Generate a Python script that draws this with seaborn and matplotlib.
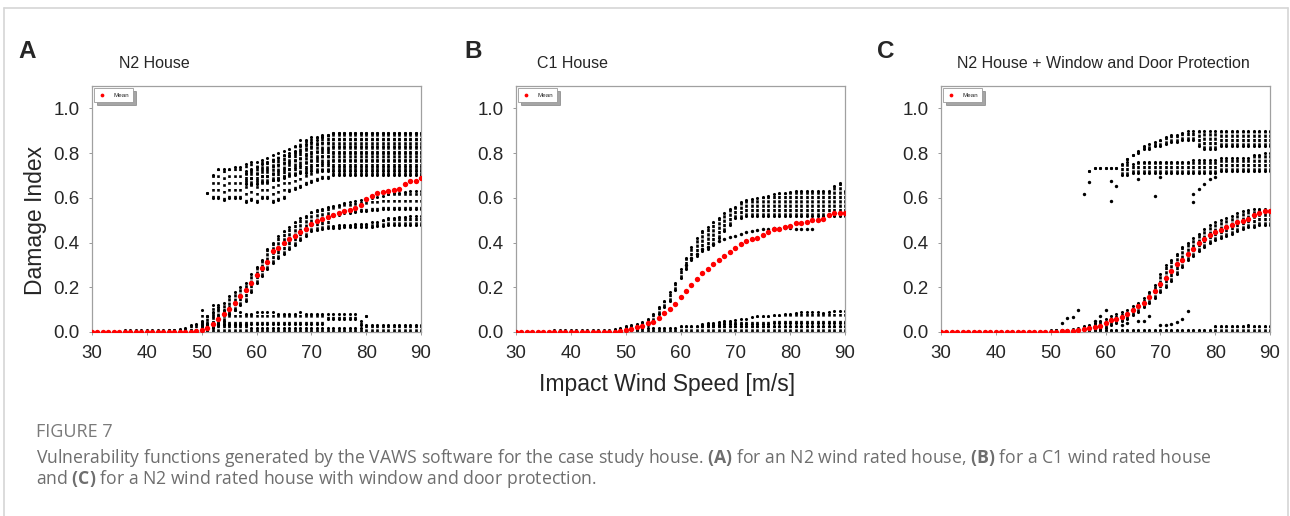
import matplotlib
matplotlib.use("Agg")
import matplotlib.pyplot as plt
import seaborn as sns
from matplotlib.lines import Line2D

sns.set_theme(style="white")
plt.rcParams['font.family'] = ['Liberation Sans', 'DejaVu Sans']
plt.rcParams['mathtext.fontset'] = 'custom'
plt.rcParams['mathtext.rm'] = 'Open Sans'
plt.rcParams['mathtext.bf'] = 'Open Sans:bold'

# --- data ---
speed = list(range(30, 91))

mean_a = [0, 0, 0, 0, 0, 0, 0, 0, 0, 0,
          0, 0, 0, 0, 0, 0, 0, 0, 0, 0.005,
          0.01, 0.02, 0.035, 0.06, 0.08, 0.105, 0.13, 0.16, 0.19, 0.22,
          0.255, 0.285, 0.315, 0.36, 0.375, 0.40, 0.415, 0.43, 0.445, 0.46,
          0.485, 0.495, 0.505, 0.515, 0.525, 0.53, 0.54, 0.545, 0.555, 0.57,
          0.595, 0.61, 0.62, 0.625, 0.63, 0.635, 0.64, 0.66, 0.675, 0.675,
          0.69]
mean_b = [0, 0, 0, 0, 0, 0, 0, 0, 0, 0,
          0, 0, 0, 0, 0, 0, 0, 0, 0, 0.005,
          0.01, 0.015, 0.024, 0.028, 0.039, 0.046, 0.061, 0.083, 0.101, 0.125,
          0.155, 0.183, 0.21, 0.238, 0.262, 0.283, 0.304, 0.324, 0.339, 0.356,
          0.376, 0.393, 0.406, 0.417, 0.42, 0.432, 0.449, 0.46, 0.46, 0.469,
          0.475, 0.487, 0.487, 0.49, 0.499, 0.501, 0.506, 0.524, 0.53, 0.53,
          0.53]
mean_c = [0, 0, 0, 0, 0, 0, 0, 0, 0, 0,
          0, 0, 0, 0, 0, 0, 0, 0, 0, 0,
          0, 0, 0.003, 0.003, 0.005, 0.008, 0.012, 0.018, 0.024, 0.028,
          0.039, 0.054, 0.06, 0.068, 0.08, 0.10, 0.116, 0.128, 0.158, 0.185,
          0.214, 0.243, 0.274, 0.304, 0.324, 0.348, 0.369, 0.396, 0.415, 0.433,
          0.448, 0.458, 0.47, 0.478, 0.492, 0.497, 0.504, 0.521, 0.534, 0.54,
          0.541]

# realisations: (first speed, lower edge, upper edge) of each column group
a_base_start = 36
a_base_top = [0.008, 0.008, 0.008, 0.008, 0.008, 0.008, 0.008, 0.008, 0.008, 0.008, 0.008, 0.008, 0.008, 0.008,
              0.03, 0.03, 0.03, 0.03, 0.03, 0.03, 0.03, 0.03, 0.03,
              0.02, 0.02, 0.02, 0.02, 0.02, 0.02, 0.02, 0.02, 0.02, 0.02, 0.02,
              0.02, 0.02, 0.02, 0.02, 0.02, 0.02, 0.02, 0.02, 0.02, 0.02,
              0.03, 0.03, 0.03, 0.03, 0.03, 0.03, 0.03, 0.03, 0.03, 0.03, 0.03]
a_low_start = 50
a_low_lo = [0.035, 0.035, 0.035, 0.035, 0.035, 0.035, 0.035, 0.035, 0.035, 0.035,
            0.035, 0.035, 0.035, 0.035, 0.035, 0.035, 0.035, 0.035, 0.035, 0.035,
            0.035, 0.035, 0.035, 0.06, 0.06, 0.06, 0.06, 0.06, 0.06, 0.03, 0.07]
a_low_hi = [0.10, 0.07, 0.12, 0.12, 0.10, 0.11, 0.10, 0.09, 0.08, 0.08,
            0.09, 0.09, 0.09, 0.09, 0.08, 0.08, 0.08, 0.08, 0.09, 0.08,
            0.08, 0.08, 0.08, 0.08, 0.08, 0.08, 0.08, 0.08, 0.08, 0.05, 0.07]
a_s_start = 44
a_s_lo = [0, 0, 0, 0, 0, 0, 0, 0.01, 0.02, 0.03, 0.05, 0.08, 0.10, 0.12, 0.14,
          0.18, 0.22, 0.25, 0.28, 0.31, 0.33, 0.35, 0.37, 0.39, 0.41, 0.43, 0.45, 0.455, 0.46, 0.465]
a_s_hi = [0.01, 0.01, 0.015, 0.02, 0.03, 0.035, 0.05, 0.07, 0.09, 0.11, 0.13, 0.16, 0.18, 0.20, 0.22,
          0.26, 0.29, 0.32, 0.37, 0.40, 0.43, 0.45, 0.47, 0.49, 0.51, 0.52, 0.535, 0.545, 0.55, 0.56]
a_mid_start = 74
a_mid_lo = [0.52, 0.525, 0.53, 0.53, 0.535, 0.54, 0.54, 0.545, 0.545, 0.55, 0.55, 0.55, 0.55, 0.55, 0.55, 0.55, 0.55]
a_mid_hi = [0.565, 0.57, 0.575, 0.58, 0.585, 0.59, 0.595, 0.60, 0.605, 0.61, 0.615, 0.62, 0.62, 0.625, 0.63, 0.63, 0.63]
a_flat_start = 74
a_flat_lo = [0.465, 0.465, 0.47, 0.47, 0.47, 0.47, 0.47, 0.47, 0.475, 0.475, 0.48, 0.48, 0.48, 0.48, 0.48, 0.48, 0.48]
a_flat_hi = [0.475, 0.48, 0.48, 0.48, 0.485, 0.485, 0.485, 0.49, 0.49, 0.50, 0.51, 0.51, 0.515, 0.515, 0.52, 0.52, 0.52]
a_up_start = 51
a_up_lo = [0.62, 0.60, 0.60, 0.59, 0.60, 0.60, 0.60, 0.58, 0.59, 0.58, 0.60, 0.60, 0.58, 0.59, 0.60,
           0.63, 0.64, 0.65, 0.66, 0.67, 0.68, 0.69, 0.69,
           0.70, 0.70, 0.70, 0.70, 0.70, 0.70, 0.70, 0.70, 0.70, 0.70, 0.70, 0.70, 0.70, 0.70, 0.70, 0.70, 0.70]
a_up_hi = [0.62, 0.70, 0.73, 0.73, 0.73, 0.74, 0.74, 0.75, 0.76, 0.76, 0.77, 0.78, 0.79, 0.80, 0.81,
           0.82, 0.83, 0.86, 0.86, 0.87, 0.87, 0.88, 0.88,
           0.89, 0.89, 0.89, 0.89, 0.89, 0.89, 0.89, 0.89, 0.89, 0.89, 0.89, 0.89, 0.89, 0.89, 0.89, 0.89, 0.89]
a_core_start = 58
a_core_lo = [0.66, 0.66, 0.66, 0.67, 0.67, 0.68, 0.68, 0.69, 0.70, 0.70, 0.71, 0.71, 0.72,
             0.72, 0.72, 0.72, 0.72, 0.72, 0.72, 0.72, 0.72, 0.72, 0.72,
             0.72, 0.72, 0.72, 0.72, 0.72, 0.72, 0.72, 0.72, 0.72, 0.72]
a_core_hi = [0.72, 0.73, 0.74, 0.75, 0.76, 0.77, 0.78, 0.79, 0.80, 0.81, 0.83, 0.84, 0.85,
             0.86, 0.87, 0.88, 0.89, 0.89, 0.89, 0.89, 0.89, 0.89, 0.89,
             0.89, 0.89, 0.89, 0.89, 0.89, 0.89, 0.89, 0.89, 0.89, 0.89]

b_base_start = 37
b_base_top = [0.01, 0.01, 0.01, 0.01, 0.01, 0.01, 0.01, 0.01, 0.01, 0.01, 0.01, 0.01, 0.01,
              0.02, 0.02, 0.02, 0.02, 0.02, 0.02, 0.02, 0.02, 0.02, 0.02,
              0.025, 0.025, 0.025, 0.025, 0.025, 0.025, 0.025, 0.025, 0.025, 0.025,
              0.025, 0.025, 0.025, 0.025, 0.025, 0.025, 0.025, 0.025, 0.025, 0.025,
              0.025, 0.025, 0.025, 0.025, 0.025, 0.025, 0.025, 0.025, 0.025, 0.025, 0.025]
b_rise_start = 64
b_rise_lo = [0.03, 0.03, 0.03, 0.03, 0.035, 0.035, 0.035, 0.035, 0.035, 0.035, 0.035, 0.035, 0.035,
             0.04, 0.04, 0.04, 0.04, 0.04, 0.04, 0.04, 0.04, 0.04, 0.04, 0.04, 0.04, 0.04, 0.04]
b_rise_hi = [0.035, 0.04, 0.04, 0.045, 0.05, 0.05, 0.055, 0.06, 0.06, 0.065, 0.07, 0.07, 0.07,
             0.075, 0.075, 0.08, 0.08, 0.085, 0.09, 0.09, 0.09, 0.09, 0.085, 0.09, 0.095, 0.095, 0.095]
b_s_start = 48
b_s_lo = [0, 0, 0, 0.005, 0.01, 0.02, 0.03, 0.05, 0.08, 0.11, 0.14, 0.19, 0.24, 0.28, 0.32, 0.34,
          0.36, 0.37, 0.39, 0.42, 0.45, 0.48, 0.51, 0.51,
          0.52, 0.52, 0.52, 0.52, 0.52, 0.52, 0.52, 0.52, 0.52, 0.52,
          0.52, 0.52, 0.52, 0.52, 0.52, 0.52, 0.52, 0.52, 0.52]
b_s_hi = [0.015, 0.02, 0.025, 0.03, 0.035, 0.045, 0.06, 0.08, 0.11, 0.14, 0.18, 0.22, 0.28, 0.33, 0.38, 0.42,
          0.45, 0.47, 0.49, 0.51, 0.53, 0.55, 0.56, 0.58,
          0.59, 0.595, 0.60, 0.605, 0.61, 0.615, 0.62, 0.62, 0.625, 0.63,
          0.63, 0.63, 0.63, 0.63, 0.63, 0.63, 0.655, 0.665, 0.63]
b_branch_x = [61, 62, 63, 64, 65, 66, 67, 68, 69, 70, 71, 72, 73, 74, 75, 76, 77, 78, 79, 80, 81, 82, 83, 84]
b_branch_y = [0.30, 0.33, 0.35, 0.37, 0.38, 0.395, 0.405, 0.415, 0.425, 0.43, 0.44, 0.445,
              0.45, 0.455, 0.46, 0.46, 0.465, 0.465, 0.465, 0.465, 0.46, 0.46, 0.46, 0.46]

c_base_start = 50
c_base_top = [0.008, 0.008, 0.008, 0.008, 0.008, 0.008, 0.008, 0.008, 0.008, 0.008,
              0.008, 0.008, 0.008, 0.008, 0.008, 0.008, 0.008, 0.008, 0.008, 0.008,
              0.01, 0.01, 0.01, 0.01, 0.01, 0.01, 0.01, 0.01, 0.01, 0.01,
              0.025, 0.025, 0.025, 0.025, 0.025, 0.025, 0.03, 0.025, 0.025, 0.025, 0.025]
c_s_start = 50
c_s_lo = [0, 0, 0, 0, 0, 0, 0.005, 0.01, 0.01, 0.015, 0.02, 0.03, 0.04, 0.05, 0.06, 0.075,
          0.09, 0.11, 0.13, 0.15, 0.18, 0.20, 0.23, 0.26, 0.29, 0.32, 0.34, 0.36, 0.38, 0.40,
          0.41, 0.42, 0.43, 0.44, 0.45, 0.46, 0.47, 0.47, 0.48, 0.48, 0.48]
c_s_hi = [0.005, 0.008, 0.01, 0.01, 0.015, 0.02, 0.025, 0.03, 0.04, 0.05, 0.06, 0.07, 0.08, 0.09, 0.10, 0.115,
          0.13, 0.15, 0.18, 0.21, 0.26, 0.30, 0.32, 0.35, 0.38, 0.40, 0.42, 0.44, 0.46, 0.48,
          0.49, 0.50, 0.51, 0.52, 0.53, 0.54, 0.545, 0.55, 0.55, 0.55, 0.54]
c_low_x = [52, 53, 54, 55, 58, 59, 60, 63, 64, 66, 67, 68, 70, 71, 72, 73, 74, 75]
c_low_y = [0.039, 0.061, 0.067, 0.10, 0.05, 0.07, 0.10, 0.03, 0.04, 0.05, 0.05, 0.07,
           0.03, 0.03, 0.036, 0.045, 0.06, 0.095]
c_top_start = 64
c_top_lo = [0.775, 0.79, 0.80, 0.82, 0.82, 0.83, 0.83, 0.84, 0.85, 0.85, 0.86, 0.86, 0.86,
            0.83, 0.82, 0.82, 0.82, 0.83, 0.83, 0.83, 0.83, 0.83, 0.83, 0.83, 0.83, 0.83, 0.83]
c_top_hi = [0.775, 0.79, 0.81, 0.83, 0.84, 0.85, 0.86, 0.87, 0.88, 0.88, 0.89, 0.90, 0.90,
            0.90, 0.90, 0.90, 0.90, 0.90, 0.90, 0.90, 0.90, 0.90, 0.90, 0.90, 0.90, 0.90, 0.90]
c_mid_start = 57
c_mid_lo = [0.72, 0.735, 0.735, 0.735, 0.735, 0.735, 0.70, 0.70, 0.71,
            0.71, 0.71, 0.71, 0.71, 0.71, 0.71, 0.71, 0.71, 0.71, 0.71,
            0.71, 0.71, 0.71, 0.71, 0.71, 0.72, 0.72, 0.72, 0.72, 0.72, 0.72, 0.72, 0.72, 0.72, 0.72]
c_mid_hi = [0.72, 0.735, 0.735, 0.735, 0.735, 0.735, 0.75, 0.76, 0.75,
            0.76, 0.76, 0.76, 0.76, 0.76, 0.76, 0.76, 0.76, 0.76, 0.76,
            0.77, 0.77, 0.77, 0.77, 0.77, 0.78, 0.78, 0.78, 0.78, 0.78, 0.78, 0.79, 0.79, 0.80, 0.80]
c_out_x = [56, 57, 61, 61, 62, 66, 69, 70, 76, 76, 77, 78, 79, 80]
c_out_y = [0.616, 0.671, 0.676, 0.588, 0.653, 0.686, 0.609, 0.693, 0.582, 0.619, 0.64, 0.663, 0.686, 0.693]

titles = ["N2 House", "C1 House", "N2 House + Window and Door Protection"]
letters = ["A", "B", "C"]
x_ticks = [30, 40, 50, 60, 70, 80, 90]
y_ticks = [0.0, 0.2, 0.4, 0.6, 0.8, 1.0]

DENSE = (0, (1.2, 0.45))
SPARSE = (0, (1.0, 1.6))


def band(ax, start, lo, hi, style=DENSE):
    xs = list(range(start, start + len(hi)))
    ax.vlines(xs, lo, hi, colors="black", linewidth=1.9, linestyles=style)
    ends = lo if isinstance(lo, list) else [lo] * len(hi)
    sns.scatterplot(x=xs + xs, y=ends + hi, color="black", s=5, linewidth=0,
                    ax=ax, legend=False)


def dots(ax, xs, ys):
    sns.scatterplot(x=xs, y=ys, color="black", s=6, linewidth=0, ax=ax, legend=False)


fig = plt.figure(figsize=(12.9, 5.16), dpi=100)
W, H = 1290.0, 516.0
lefts = [92, 516, 941]
axes = [fig.add_axes([l / W, 1 - 332 / H, 329 / W, 246 / H]) for l in lefts]

ax = axes[0]
band(ax, a_base_start, 0, a_base_top)
band(ax, a_low_start, a_low_lo, a_low_hi, SPARSE)
band(ax, a_s_start, a_s_lo, a_s_hi)
band(ax, a_mid_start, a_mid_lo, a_mid_hi, SPARSE)
band(ax, a_flat_start, a_flat_lo, a_flat_hi)
band(ax, a_up_start, a_up_lo, a_up_hi, SPARSE)
band(ax, a_core_start, a_core_lo, a_core_hi)

ax = axes[1]
band(ax, b_base_start, 0, b_base_top)
band(ax, b_rise_start, b_rise_lo, b_rise_hi, SPARSE)
band(ax, b_s_start, b_s_lo, b_s_hi)
dots(ax, b_branch_x, b_branch_y)

ax = axes[2]
band(ax, c_base_start, 0, c_base_top)
band(ax, c_s_start, c_s_lo, c_s_hi)
dots(ax, c_low_x, c_low_y)
band(ax, c_top_start, c_top_lo, c_top_hi)
band(ax, c_mid_start, c_mid_lo, c_mid_hi)
dots(ax, c_out_x, c_out_y)

for ax, mean in zip(axes, [mean_a, mean_b, mean_c]):
    sns.scatterplot(x=speed, y=mean, color="red", s=15, linewidth=0,
                    label="Mean", ax=ax, zorder=5)
    ax.set_xlim(30, 90)
    ax.set_ylim(0, 1.1)
    ax.set_xticks(x_ticks)
    ax.set_yticks(y_ticks)
    ax.set_yticklabels([f"{v:.1f}" for v in y_ticks])
    ax.tick_params(axis="both", labelsize=13.5, length=2, width=0.6,
                   color="#888888", pad=7, left=True, bottom=True)
    for sp in ax.spines.values():
        sp.set_color("#a0a0a0")
        sp.set_linewidth(0.9)
    ax.set_xlabel("")
    ax.set_ylabel("")
    leg = ax.legend(loc="upper left", prop={"size": 4.5}, handlelength=1.2,
                    handletextpad=1.2, borderpad=0.7, borderaxespad=0.3,
                    shadow=True, fancybox=False, framealpha=1, markerscale=0.7)
    leg.get_frame().set_edgecolor("#999999")
    leg.get_frame().set_linewidth(0.6)

# panel letters and titles
for x, t in zip([27, 473, 886], letters):
    fig.text(x / W, 1 - 51 / H, t, fontsize=17.5, fontweight="bold",
             ha="center", va="center")
for x, t in zip([119, 537, 957], titles):
    fig.text(x / W, 1 - 64 / H, t, fontsize=11.5, ha="left", va="center")

fig.text(36 / W, 1 - 220 / H, "Damage Index", rotation=90, fontsize=16.5,
         ha="center", va="center")
fig.text(667 / W, 1 - 385 / H, "Impact Wind Speed [m/s]", fontsize=16.5,
         ha="center", va="center")

# caption
fig.text(36 / W, 1 - 432 / H, "FIGURE 7", family="Open Sans", fontsize=13,
         color="#7a7a7a", ha="left", va="center")
fig.text(36 / W, 1 - 458 / H,
         r"Vulnerability functions generated by the VAWS software for the case study house. "
         r"$\mathbf{(A)}$ for an N2 wind rated house, $\mathbf{(B)}$ for a C1 wind rated house",
         family="Open Sans", fontsize=12.7, color="#6e6e6e", ha="left", va="center")
fig.text(36 / W, 1 - 479 / H,
         r"and $\mathbf{(C)}$ for a N2 wind rated house with window and door protection.",
         family="Open Sans", fontsize=12.7, color="#6e6e6e", ha="left", va="center")

# page frame
frame = dict(color="#d6d6d6", linewidth=1.2, transform=fig.transFigure)
fig.add_artist(Line2D([4 / W, 4 / W], [0, 1 - 8 / H], **frame))
fig.add_artist(Line2D([4 / W, 1288 / W], [1 - 8 / H, 1 - 8 / H], **frame))
fig.add_artist(Line2D([1288 / W, 1288 / W], [0, 1 - 8 / H], **frame))

fig.savefig("out.png", dpi=100)
